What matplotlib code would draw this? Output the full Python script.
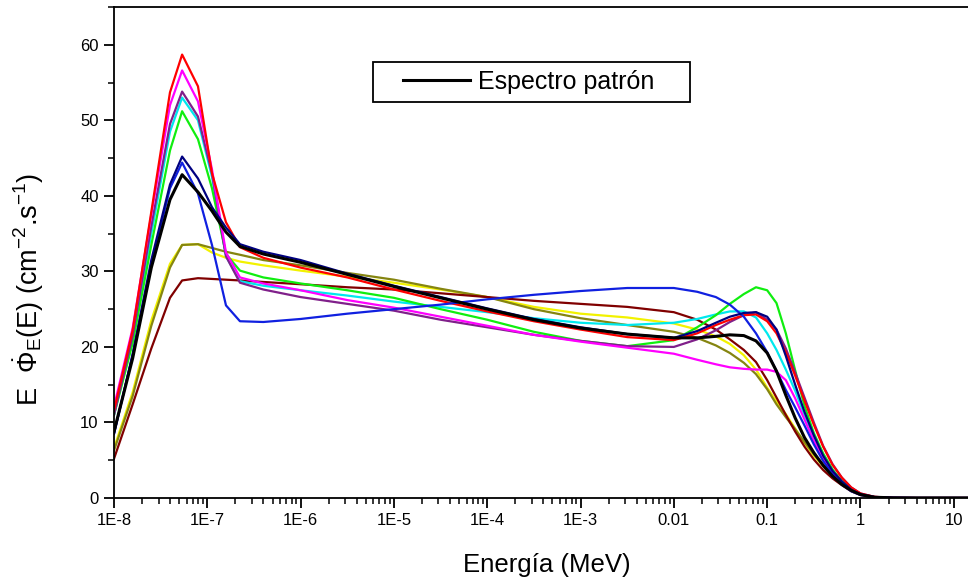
import numpy as np
import matplotlib
matplotlib.use('Agg')
import matplotlib.pyplot as plt
from matplotlib.ticker import LogLocator, MultipleLocator, NullFormatter
from matplotlib.patches import Rectangle

plt.rcParams['font.family'] = ['Liberation Sans', 'DejaVu Sans']
plt.rcParams['mathtext.fontset'] = 'custom'
plt.rcParams['mathtext.rm'] = 'Liberation Sans'
plt.rcParams['mathtext.it'] = 'Liberation Sans'

# log10 of the energy (MeV) at which each spectrum is tabulated
log_e = [-8.0, -7.8, -7.6, -7.4, -7.27, -7.1, -6.95, -6.8, -6.65, -6.4,
         -6.0, -5.5, -5.0, -4.5, -4.0, -3.5, -3.0,
         -2.5, -2.0, -1.75, -1.55, -1.4, -1.25, -1.12, -1.0, -0.9, -0.8,
         -0.7, -0.6, -0.5, -0.4, -0.3, -0.2, -0.1, 0.0, 0.15, 0.35,
         0.6, 1.0, 1.2]
energia = [10.0 ** v for v in log_e]

# E*dPhi/dE (cm-2 s-1)
patron = [8.8, 18.5, 30.5, 39.5, 42.8, 40.5, 38.0, 35.2, 33.3, 32.3,
          31.2, 29.6, 28.0, 26.5, 25.0, 23.6, 22.5,
          21.7, 21.2, 21.2, 21.4, 21.6, 21.5, 20.8, 19.2, 16.8, 13.6,
          10.6, 8.0, 6.0, 4.3, 2.9, 1.8, 1.0, 0.45, 0.1, 0.02,
          0, 0, 0]
rojo = [11.6, 22.2, 37.9, 53.7, 58.7, 54.5, 43.0, 36.5, 33.2, 31.8,
        30.5, 29.2, 27.6, 26.1, 24.7, 23.4, 22.3,
        21.3, 20.9, 21.8, 22.9, 23.6, 24.2, 24.3, 23.4, 21.8, 19.3,
        16.2, 12.9, 9.7, 6.8, 4.4, 2.7, 1.4, 0.6, 0.15, 0.02,
        0, 0, 0]
magenta = [12.1, 22.5, 37.5, 52.0, 56.6, 52.5, 43.5, 32.5, 29.2, 28.4,
           27.5, 26.2, 25.2, 24.0, 22.8, 21.6, 20.7,
           19.9, 19.1, 18.3, 17.7, 17.3, 17.1, 17.0, 17.0, 16.7, 15.6,
           13.2, 10.4, 7.6, 5.2, 3.4, 2.0, 1.0, 0.45, 0.1, 0.02,
           0, 0, 0]
purpura = [11.0, 21.5, 36.0, 49.5, 53.8, 50.5, 43.0, 32.0, 28.5, 27.6,
           26.6, 25.7, 24.8, 23.6, 22.6, 21.6, 20.8,
           20.1, 20.0, 21.0, 22.2, 23.3, 24.2, 24.6, 23.6, 22.3, 19.8,
           16.6, 13.3, 10.0, 6.9, 4.5, 2.7, 1.4, 0.6, 0.15, 0.02,
           0, 0, 0]
verde = [11.0, 20.5, 33.5, 46.0, 51.2, 47.5, 41.0, 32.3, 30.1, 29.2,
         28.4, 27.5, 26.5, 25.0, 23.6, 22.0, 20.8,
         20.1, 20.9, 22.6, 24.2, 25.7, 27.0, 27.9, 27.5, 25.8, 21.8,
         16.9, 12.2, 8.6, 5.9, 3.8, 2.2, 1.1, 0.5, 0.12, 0.02,
         0, 0, 0]
cian = [11.0, 21.0, 35.0, 48.5, 53.0, 50.0, 42.5, 32.0, 28.7, 28.1,
        27.5, 26.8, 26.0, 25.3, 24.6, 23.8, 23.2,
        22.9, 23.2, 23.7, 24.3, 24.7, 24.7, 23.9, 21.8, 19.6, 17.0,
        14.2, 11.0, 8.2, 5.6, 3.6, 2.2, 1.1, 0.5, 0.12, 0.02,
        0, 0, 0]
marino = [8.5, 19.0, 31.5, 41.5, 45.2, 42.3, 38.5, 35.8, 33.6, 32.6,
          31.5, 29.7, 28.1, 26.6, 25.1, 23.7, 22.6,
          21.7, 21.2, 22.1, 23.2, 24.0, 24.5, 24.6, 24.0, 22.3, 18.8,
          15.0, 11.4, 8.3, 5.6, 3.6, 2.2, 1.1, 0.5, 0.12, 0.02,
          0, 0, 0]
azul = [8.5, 19.0, 31.0, 41.0, 44.4, 40.3, 33.5, 25.5, 23.4, 23.3,
        23.7, 24.4, 25.0, 25.6, 26.3, 26.9, 27.4,
        27.8, 27.8, 27.3, 26.6, 25.6, 24.0, 21.8, 19.3, 16.8, 14.3,
        12.0, 9.6, 7.1, 4.9, 3.2, 1.8, 0.9, 0.4, 0.1, 0.02,
        0, 0, 0]
oliva = [6.3, 13.5, 22.8, 30.5, 33.5, 33.6, 33.1, 32.6, 32.2, 31.5,
         30.8, 29.8, 28.9, 27.7, 26.6, 25.0, 23.8,
         22.9, 22.0, 21.2, 20.2, 19.2, 17.9, 16.4, 14.4, 12.4, 10.7,
         9.1, 7.4, 5.8, 4.4, 3.2, 2.1, 1.2, 0.5, 0.12, 0.02,
         0, 0, 0]
amarillo = [6.6, 14.0, 23.5, 31.0, 33.5, 33.6, 32.5, 31.8, 31.3, 30.8,
            30.1, 29.3, 28.5, 27.6, 26.6, 25.3, 24.4,
            23.9, 23.1, 22.3, 21.4, 20.4, 18.9, 17.0, 14.6, 12.8, 11.1,
            9.2, 7.3, 5.6, 4.2, 2.9, 1.9, 1.0, 0.45, 0.1, 0.02,
            0, 0, 0]
granate = [5.2, 12.4, 19.8, 26.5, 28.8, 29.1, 29.0, 28.9, 28.8, 28.6,
           28.3, 27.9, 27.6, 27.1, 26.6, 26.1, 25.7,
           25.3, 24.6, 23.6, 22.3, 21.0, 19.6, 18.0, 15.6, 13.3, 11.0,
           8.8, 6.8, 5.1, 3.7, 2.6, 1.7, 0.9, 0.4, 0.1, 0.02,
           0, 0, 0]

x_ticks = [1e-8, 1e-7, 1e-6, 1e-5, 1e-4, 1e-3, 1e-2, 1e-1, 1, 10]
x_labels = ['1E-8', '1E-7', '1E-6', '1E-5', '1E-4', '1E-3', '0.01', '0.1', '1', '10']

fig = plt.figure(figsize=(9.68, 5.81), dpi=100)
ax = fig.add_axes([114 / 968, 83 / 581, 854 / 968, 491 / 581])

series = [
    (amarillo, '#f2f200'),
    (oliva, '#858510'),
    (granate, '#800000'),
    (cian, '#00e8ee'),
    (verde, '#10ee10'),
    (purpura, '#80208a'),
    (magenta, '#ff00ff'),
    (rojo, '#ff0000'),
    (azul, '#1020e0'),
    (marino, '#000080'),
]
for vals, col in series:
    ax.plot(energia, vals, color=col, lw=1.6)
ax.plot(energia, patron, color='black', lw=2.2, label='Espectro patrón')

ax.set_xscale('log')
ax.set_xlim(1e-8, 14.2)
ax.set_ylim(0, 65)
ax.set_xticks(x_ticks, x_labels)
ax.xaxis.set_minor_locator(LogLocator(base=10, subs=np.arange(2, 10), numticks=20))
ax.xaxis.set_minor_formatter(NullFormatter())
ax.yaxis.set_major_locator(MultipleLocator(10))
ax.yaxis.set_minor_locator(MultipleLocator(5))

ax.tick_params(which='major', direction='out', length=7, width=1.3, labelsize=12, pad=4)
ax.tick_params(which='minor', direction='out', length=4, width=1.1)
ax.spines['right'].set_visible(False)
for s in ['left', 'bottom', 'top']:
    ax.spines[s].set_linewidth(1.3)

ax.set_xlabel('Energía (MeV)', fontsize=18.5)
ax.xaxis.set_label_coords(0.507, -0.112)
ax.set_ylabel(r'E  $\dot{\Phi}_{\mathrm{E}}$(E) (cm$^{\mathrm{-2}}$.s$^{\mathrm{-1}}$)',
              fontsize=19.5)
ax.yaxis.set_label_coords(-0.08, 0.424)

# legend box
ax.add_patch(Rectangle((0.303, 0.8065), 0.3712, 0.0815, transform=ax.transAxes,
                       facecolor='white', edgecolor='black', lw=1.3, zorder=5))
leg = ax.legend(loc='center left', bbox_to_anchor=(0.3384, 0.847), frameon=False,
                fontsize=18, handlelength=2.7, handletextpad=0.32,
                borderpad=0, borderaxespad=0)
leg.set_zorder(6)

fig.savefig('out.png', dpi=100)
